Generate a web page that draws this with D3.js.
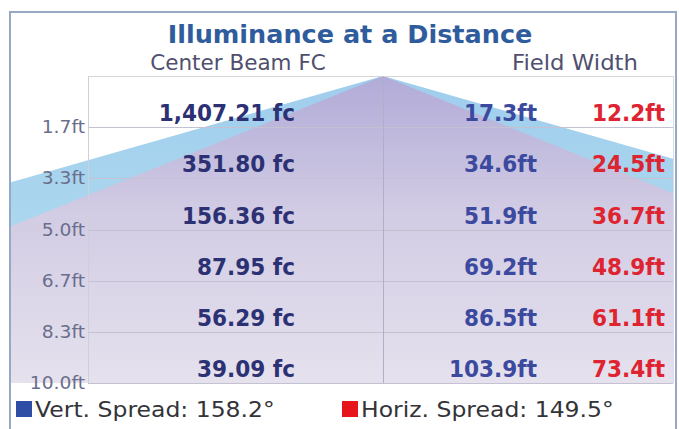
<!DOCTYPE html>
<html>
<head>
<meta charset="utf-8">
<script src="https://cdn.jsdelivr.net/npm/d3@7"></script>
<style>
  html, body { margin: 0; padding: 0; background: #ffffff; }
  svg { display: block; font-family: "DejaVu Sans", sans-serif; }
</style>
</head>
<body>
<svg id="chart" width="679" height="429"></svg>
<script>
// ---- data ----
const distances = [1.67, 3.33, 5.0, 6.67, 8.33, 10.0];            // ft
const distanceLabels = ["1.7ft", "3.3ft", "5.0ft", "6.7ft", "8.3ft", "10.0ft"];
const centerBeamFC = [1407.21, 351.80, 156.36, 87.95, 56.29, 39.09];
const vertFieldWidth = [17.3, 34.6, 51.9, 69.2, 86.5, 103.9];     // ft
const horizFieldWidth = [12.2, 24.5, 36.7, 48.9, 61.1, 73.4];     // ft
const vertSpread = 158.2;   // degrees
const horizSpread = 149.5;  // degrees
const titleText = "Illuminance at a Distance";
const colHeaders = ["Center Beam FC", "Field Width"];

// ---- layout ----
const W = 679, H = 429;
const frame = { x: 10, y: 12, w: 666, h: 430 };
const plot = { left: 88, right: 673, top: 76, bottom: 383 };

const svg = d3.select("#chart");

const y = d3.scaleLinear().domain([0, 10]).range([plot.top, plot.bottom]);
const x = d3.scaleLinear().domain([-14, 14]).range([93, 673]);

const defs = svg.append("defs");
defs.append("clipPath").attr("id", "beamClip")
  .append("rect")
  .attr("x", frame.x + 1).attr("y", plot.top)
  .attr("width", plot.right - frame.x - 1).attr("height", plot.bottom - plot.top);

const gBlue = defs.append("linearGradient").attr("id", "gBlue")
  .attr("gradientUnits", "userSpaceOnUse")
  .attr("x1", 0).attr("y1", plot.top).attr("x2", 0).attr("y2", plot.bottom);
gBlue.append("stop").attr("offset", 0).attr("stop-color", "#9fcdec");
gBlue.append("stop").attr("offset", 0.5).attr("stop-color", "#acd7ef");
gBlue.append("stop").attr("offset", 1).attr("stop-color", "#c9e4f3");

const gPurple = defs.append("linearGradient").attr("id", "gPurple")
  .attr("gradientUnits", "userSpaceOnUse")
  .attr("x1", 0).attr("y1", plot.top).attr("x2", 0).attr("y2", plot.bottom);
gPurple.append("stop").attr("offset", 0).attr("stop-color", "#b1abd8");
gPurple.append("stop").attr("offset", 0.45).attr("stop-color", "#d2cce4");
gPurple.append("stop").attr("offset", 1).attr("stop-color", "#e5e1ed");

// frame
svg.append("rect")
  .attr("x", frame.x).attr("y", frame.y)
  .attr("width", frame.w).attr("height", frame.h)
  .attr("fill", "#ffffff").attr("stroke", "#97a8c4").attr("stroke-width", 2);

// beams
const dMax = distances[distances.length - 1];
const line = d3.line().x(d => x(d[0])).y(d => y(d[1]));
const beams = svg.append("g").attr("clip-path", "url(#beamClip)");
const vHalf = vertFieldWidth[vertFieldWidth.length - 1] / 2;
const hHalf = horizFieldWidth[horizFieldWidth.length - 1] / 2;
beams.append("path")
  .attr("d", line([[0, 0], [-vHalf, dMax], [vHalf, dMax]]) + "Z")
  .attr("fill", "url(#gBlue)");
beams.append("path")
  .attr("d", line([[0, 0], [-hHalf, dMax], [hHalf, dMax]]) + "Z")
  .attr("fill", "url(#gPurple)");

// grid
const grid = svg.append("g");
grid.selectAll("line.h").data(distances).join("line")
  .attr("x1", plot.left).attr("x2", plot.right)
  .attr("y1", d => Math.round(y(d)) + 0.5).attr("y2", d => Math.round(y(d)) + 0.5)
  .attr("stroke", "#c4c2d2").attr("stroke-width", 1);
grid.append("line")
  .attr("x1", plot.left).attr("x2", plot.right)
  .attr("y1", plot.top + 0.5).attr("y2", plot.top + 0.5)
  .attr("stroke", "#d6d6dc");
grid.append("line")
  .attr("x1", plot.left + 0.5).attr("x2", plot.left + 0.5)
  .attr("y1", plot.top).attr("y2", plot.bottom)
  .attr("stroke", "#cfcfd8");
grid.append("line")
  .attr("x1", plot.right + 0.5).attr("x2", plot.right + 0.5)
  .attr("y1", plot.top).attr("y2", plot.bottom)
  .attr("stroke", "#dcdce4");
grid.append("line")
  .attr("x1", Math.round(x(0)) + 0.5).attr("x2", Math.round(x(0)) + 0.5)
  .attr("y1", plot.top).attr("y2", plot.bottom)
  .attr("stroke", "#b2aec8");

// helper for stretched text
function stext(parent, tx, ty, str, opts) {
  const g = parent.append("g")
    .attr("transform", `translate(${tx},${ty}) scale(${opts.k || 1},1)`);
  g.append("text")
    .attr("text-anchor", opts.anchor || "start")
    .attr("font-size", opts.size)
    .attr("font-weight", opts.weight || "normal")
    .attr("fill", opts.color)
    .text(str);
  return g;
}

// title & headers
stext(svg, 350, 43, titleText, { anchor: "middle", size: 25.5, weight: "bold", color: "#2f5c9c", k: 1 });
stext(svg, 238, 70, colHeaders[0], { anchor: "middle", size: 21.5, color: "#4f4f6e", k: 1 });
stext(svg, 575, 70, colHeaders[1], { anchor: "middle", size: 21.5, color: "#4f4f6e", k: 1.06 });

// y-axis labels
const fmtFC = d3.format(",.2f");
distances.forEach((d, i) => {
  stext(svg, 85, y(d) + 6, distanceLabels[i], { anchor: "end", size: 17, color: "#6a6e8c", k: 1.1 });
  stext(svg, 295, y(d) - 6, fmtFC(centerBeamFC[i]) + " fc", { anchor: "end", size: 23.5, weight: "bold", color: "#2c3174", k: 0.92 });
  stext(svg, 537, y(d) - 6, vertFieldWidth[i].toFixed(1) + "ft", { anchor: "end", size: 23.5, weight: "bold", color: "#3b4a9e", k: 0.92 });
  stext(svg, 665, y(d) - 6, horizFieldWidth[i].toFixed(1) + "ft", { anchor: "end", size: 23.5, weight: "bold", color: "#de2430", k: 0.92 });
});

// legend
const legend = [
  { x: 16, color: "#2e4ea6", label: "Vert. Spread: " + vertSpread.toFixed(1) + "°" },
  { x: 342, color: "#e8141c", label: "Horiz. Spread: " + horizSpread.toFixed(1) + "°" }
];
legend.forEach(l => {
  svg.append("rect").attr("x", l.x).attr("y", 401).attr("width", 16).attr("height", 16).attr("fill", l.color);
  stext(svg, l.x + 19, 417, l.label, { size: 21, color: "#333338", k: 1.12 });
});
</script>
</body>
</html>
